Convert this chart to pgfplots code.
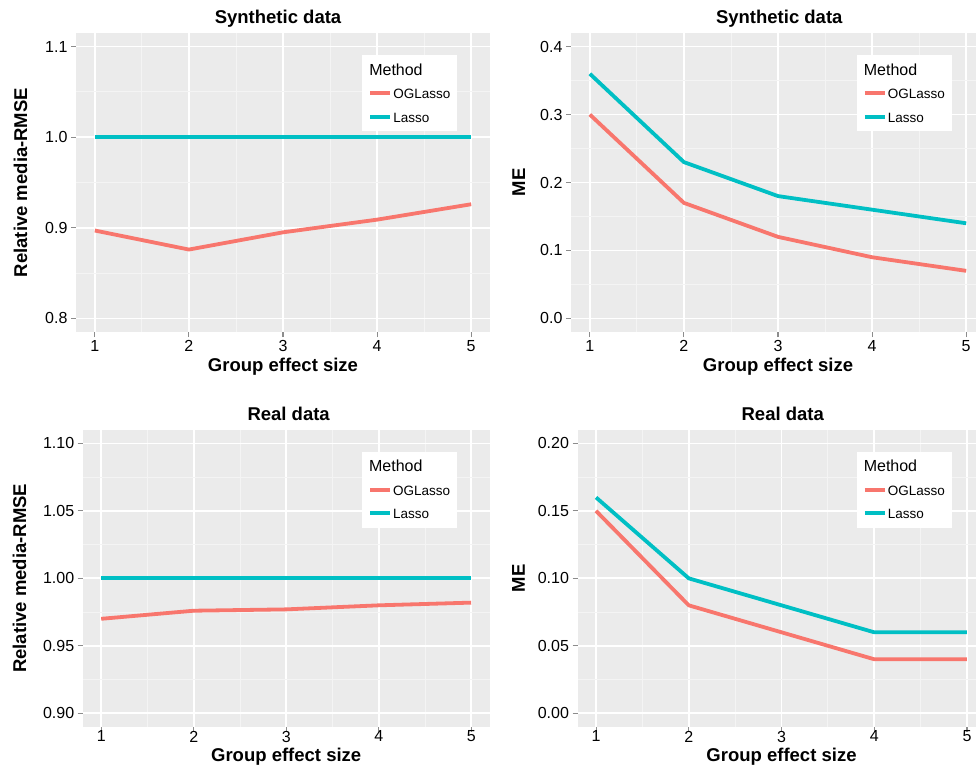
\documentclass[border=0pt]{standalone}
\usepackage{fontspec}
\setmainfont{Liberation Sans}
\usepackage{pgfplots}
\pgfplotsset{compat=1.18}
\definecolor{ogl}{HTML}{F8766D}
\definecolor{las}{HTML}{00BFC4}
\definecolor{panel}{HTML}{EBEBEB}
\definecolor{minorg}{HTML}{F4F4F4}
\definecolor{tickc}{HTML}{8C8C8C}
\pgfplotsset{
 gg/.style={
  scale only axis,
  anchor=south west,
  axis background/.style={fill=panel},
  axis line style={draw=none},
  grid=both,
  major grid style={white, line width=1.8pt},
  minor grid style={minorg, line width=0.9pt},
  tick align=outside,
  tick pos=left,
  major tick length=5pt,
  minor tick length=0pt,
  tick style={tickc, line width=1.1pt},
  xmin=0.8, xmax=5.2,
  xtick={1,2,3,4,5},
  minor xtick={1.5,2.5,3.5,4.5},
  tick label style={font=\fontsize{16}{16}\selectfont},
  /pgf/number format/assume math mode=true,
  label style={font=\fontsize{18.5}{18.5}\selectfont\bfseries},
  title style={font=\fontsize{18.5}{18.5}\selectfont\bfseries},
  xlabel={Group effect size},
  legend cell align=left,
  legend image code/.code={\draw[##1, line width=4pt] (0pt,0pt) -- (20pt,0pt);},
  legend style={anchor=north west, draw=none, fill=white, inner xsep=6pt, inner ysep=8pt, row sep=10.5pt,
    font=\fontsize{13.5}{13.5}\selectfont,
    nodes={inner sep=1pt, text height=11pt, text depth=0pt},
    /tikz/every even column/.append style={column sep=0.5pt}},
 },
 pogl/.style={ogl, line width=3.8pt},
 plas/.style={las, line width=3.8pt},
}
\begin{document}
\begin{tikzpicture}
\useasboundingbox (0,0) rectangle (976pt,764pt);
% Panel 1
\begin{axis}[gg, at={(76pt,432pt)}, width=414pt, height=299pt,
  ymin=0.785, ymax=1.115, ytick={0.8,0.9,1.0,1.1}, minor ytick={0.85,0.95,1.05},
  yticklabel style={/pgf/number format/.cd, fixed, fixed zerofill, precision=1},
  ylabel={Relative media-RMSE},
  title={Synthetic data},
  title style={at={(axis description cs:0.488,1)}, anchor=base, yshift=3.7pt},
  xlabel style={at={(axis description cs:0.5,0)}, anchor=base, yshift=-39.7pt},
  ylabel style={at={(axis description cs:-0.118,0.5)}, anchor=base},
  legend style={at={(0.691,0.926)}}]
\addlegendimage{empty legend}\addlegendentry{\hspace*{-24pt}\fontsize{16}{16}\selectfont Method}
\addplot[pogl] coordinates {(1,0.897) (2,0.876) (3,0.895) (4,0.909) (5,0.926)};
\addlegendentry{OGLasso}
\addplot[plas] coordinates {(1,1.0) (2,1.0) (3,1.0) (4,1.0) (5,1.0)};
\addlegendentry{Lasso}
\end{axis}
% Panel 2
\begin{axis}[gg, at={(571pt,432pt)}, width=414pt, height=299pt,
  ymin=-0.02, ymax=0.42, ytick={0,0.1,0.2,0.3,0.4}, minor ytick={0.05,0.15,0.25,0.35},
  yticklabel style={/pgf/number format/.cd, fixed, fixed zerofill, precision=1},
  ylabel={ME},
  title={Synthetic data},
  title style={at={(axis description cs:0.503,1)}, anchor=base, yshift=3.7pt},
  xlabel style={at={(axis description cs:0.5,0)}, anchor=base, yshift=-39.7pt},
  ylabel style={at={(axis description cs:-0.111,0.5)}, anchor=base},
  legend style={at={(0.690,0.926)}}]
\addlegendimage{empty legend}\addlegendentry{\hspace*{-24pt}\fontsize{16}{16}\selectfont Method}
\addplot[pogl] coordinates {(1,0.30) (2,0.17) (3,0.12) (4,0.09) (5,0.07)};
\addlegendentry{OGLasso}
\addplot[plas] coordinates {(1,0.36) (2,0.23) (3,0.18) (4,0.16) (5,0.14)};
\addlegendentry{Lasso}
\end{axis}
% Panel 3
\begin{axis}[gg, at={(82.7pt,37.3pt)}, width=407pt, height=296.7pt,
  ymin=0.89, ymax=1.11, ytick={0.90,0.95,1.00,1.05,1.10}, minor ytick={0.925,0.975,1.025,1.075},
  yticklabel style={/pgf/number format/.cd, fixed, fixed zerofill, precision=2},
  xticklabel style={yshift=4.4pt},
  ylabel={Relative media-RMSE},
  title={Real data},
  title style={at={(axis description cs:0.506,1)}, anchor=base, yshift=3.5pt},
  xlabel style={at={(axis description cs:0.5,0)}, anchor=base, yshift=-34.5pt},
  ylabel style={at={(axis description cs:-0.139,0.5)}, anchor=base},
  legend style={at={(0.686,0.927)}}]
\addlegendimage{empty legend}\addlegendentry{\hspace*{-24pt}\fontsize{16}{16}\selectfont Method}
\addplot[pogl] coordinates {(1,0.970) (2,0.976) (3,0.977) (4,0.980) (5,0.982)};
\addlegendentry{OGLasso}
\addplot[plas] coordinates {(1,1.0) (2,1.0) (3,1.0) (4,1.0) (5,1.0)};
\addlegendentry{Lasso}
\end{axis}
% Panel 4
\begin{axis}[gg, at={(577.5pt,37.3pt)}, width=408pt, height=296.7pt,
  ymin=-0.01, ymax=0.21, ytick={0,0.05,0.10,0.15,0.20}, minor ytick={0.025,0.075,0.125,0.175},
  yticklabel style={/pgf/number format/.cd, fixed, fixed zerofill, precision=2},
  xticklabel style={yshift=4.4pt},
  ylabel={ME},
  title={Real data},
  title style={at={(axis description cs:0.503,1)}, anchor=base, yshift=3.5pt},
  xlabel style={at={(axis description cs:0.5,0)}, anchor=base, yshift=-34.5pt},
  ylabel style={at={(axis description cs:-0.129,0.5)}, anchor=base},
  legend style={at={(0.684,0.927)}}]
\addlegendimage{empty legend}\addlegendentry{\hspace*{-24pt}\fontsize{16}{16}\selectfont Method}
\addplot[pogl] coordinates {(1,0.15) (2,0.08) (3,0.06) (4,0.04) (5,0.04)};
\addlegendentry{OGLasso}
\addplot[plas] coordinates {(1,0.16) (2,0.10) (3,0.08) (4,0.06) (5,0.06)};
\addlegendentry{Lasso}
\end{axis}
\end{tikzpicture}
\end{document}
